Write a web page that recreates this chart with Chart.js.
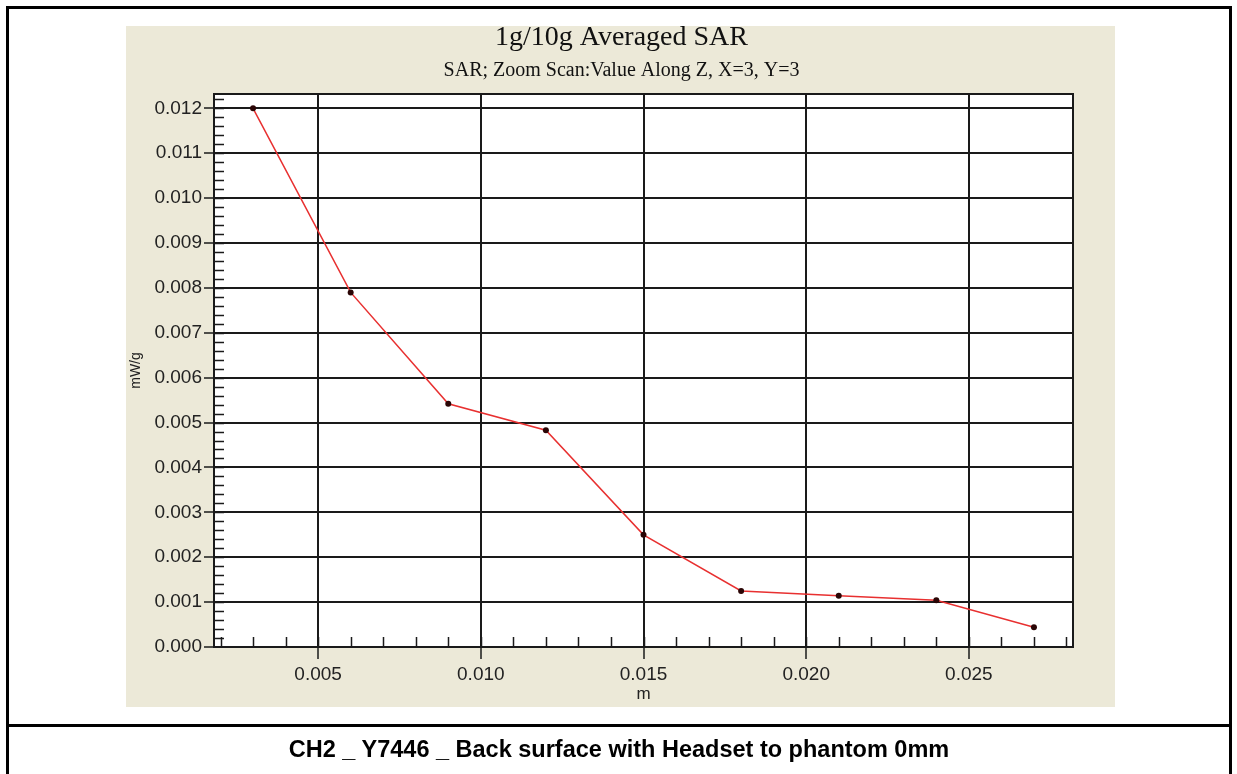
<!DOCTYPE html>
<html>
<head>
<meta charset="utf-8">
<script src="https://cdn.jsdelivr.net/npm/chart.js@4"></script>
<style>
  body { margin: 0; background: #fff; width: 1237px; height: 774px; overflow: hidden; position: relative; }
  #c { position: absolute; left: 0; top: 0; }
  .frame { position: absolute; left: 6px; top: 6px; width: 1226px; height: 820px; box-sizing: border-box; border: 3px solid #000; pointer-events: none; }
  .divider { position: absolute; left: 6px; top: 724px; width: 1226px; height: 3px; background: #000; }
  .caption { position: absolute; left: 6px; top: 737px; width: 1226px; text-align: center;
             font: bold 23.5px "Liberation Sans", Arial, sans-serif; line-height: 24px; color: #000; }
</style>
</head>
<body>
<canvas id="c" width="1237" height="774"></canvas>
<div class="frame"></div>
<div class="divider"></div>
<div class="caption">CH2 _ Y7446 _ Back surface with Headset to phantom 0mm</div>
<script>
// data
var depth = [0.003, 0.006, 0.009, 0.012, 0.015, 0.018, 0.021, 0.024, 0.027];   // m
var sar = [0.01200, 0.00790, 0.00542, 0.00483, 0.00250, 0.00125, 0.00114, 0.00104, 0.00044]; // mW/g

var xTicks = [0.005, 0.010, 0.015, 0.020, 0.025];
var yTicks = [0.000, 0.001, 0.002, 0.003, 0.004, 0.005, 0.006, 0.007, 0.008, 0.009, 0.010, 0.011, 0.012];

var xMinorStep = 0.001;
var yMinorStep = 0.0002;

var ink = '#1a1a1a';
var sans = 'Liberation Sans';
var serif = 'Liberation Serif';

// beige panel, white plot area, frame and small inner ticks
var panelPlugin = {
    id: 'panel',
    beforeDraw: function(chart) {
        var ctx = chart.ctx, a = chart.chartArea;
        ctx.save();
        ctx.fillStyle = '#ECE9D8';
        ctx.fillRect(126, 26, 989, 681);
        ctx.fillStyle = '#ffffff';
        ctx.fillRect(a.left, a.top, a.right - a.left, a.bottom - a.top);
        ctx.restore();
    },
    beforeDatasetsDraw: function(chart) {
        var ctx = chart.ctx, a = chart.chartArea;
        var xs = chart.scales.x, ys = chart.scales.y;
        ctx.save();
        ctx.strokeStyle = ink;
        ctx.lineWidth = 2;
        ctx.strokeRect(a.left, a.top, a.right - a.left, a.bottom - a.top);

        ctx.lineWidth = 1.5;
        ctx.beginPath();
        for (var i = 2; i <= 28; i++) {
            var px = Math.round(xs.getPixelForValue(i * xMinorStep)) + 0.5;
            ctx.moveTo(px, a.bottom);
            ctx.lineTo(px, a.bottom - 10);
        }
        for (var j = 1; j < 62; j++) {
            var py = Math.round(ys.getPixelForValue(j * yMinorStep)) + 0.5;
            if (py < a.top + 2) break;
            ctx.moveTo(a.left, py);
            ctx.lineTo(a.left + 10, py);
        }
        ctx.stroke();
        ctx.restore();
    }
};

var points = depth.map(function(d, i) { return { x: d, y: sar[i] }; });

var ctx = document.getElementById('c').getContext('2d');
var chart = new Chart(ctx, {
    type: 'line',
    data: {
        datasets: [{
            label: 'SAR',
            data: points,
            borderColor: '#e83030',
            borderWidth: 1.5,
            tension: 0,
            pointRadius: 3,
            pointBackgroundColor: '#2a0505',
            pointBorderWidth: 0
        }]
    },
    options: {
        responsive: false,
        animation: false,
        devicePixelRatio: 1,
        layout: { padding: { top: 23.5, left: 128, right: 122, bottom: 69.4 } },
        plugins: {
            legend: { display: false },
            tooltip: { enabled: false },
            title: {
                display: true,
                text: '1g/10g Averaged SAR',
                color: '#111',
                font: { family: serif, size: 28, weight: 'normal', lineHeight: 1 },
                padding: { top: 0, bottom: 9.4 }
            },
            subtitle: {
                display: true,
                text: 'SAR; Zoom Scan:Value Along Z, X=3, Y=3',
                color: '#111',
                font: { family: serif, size: 20, weight: 'normal', lineHeight: 1 },
                padding: { top: 0, bottom: 13.1 }
            }
        },
        scales: {
            x: {
                type: 'linear',
                min: 0.0018,
                max: 0.0282,
                afterBuildTicks: function(s) { s.ticks = xTicks.map(function(v) { return { value: v }; }); },
                afterFit: function(s) { s.height = 57.6; },
                grid: { color: ink, lineWidth: 2, tickLength: 12, tickColor: ink, tickWidth: 1.5 },
                border: { color: ink, width: 2 },
                ticks: {
                    autoSkip: false, maxRotation: 0, padding: 4, color: '#222',
                    font: { family: sans, size: 19 },
                    callback: function(v) { return Number(v).toFixed(3); }
                },
                title: { display: true, text: 'm', color: '#222', font: { family: sans, size: 17 }, padding: { top: 0, bottom: 0 } }
            },
            y: {
                min: 0,
                max: 0.01232,
                afterBuildTicks: function(s) { s.ticks = yTicks.map(function(v) { return { value: v }; }); },
                afterFit: function(s) { s.width = 86; },
                grid: { color: ink, lineWidth: 2, tickLength: 10, tickColor: ink, tickWidth: 1.5 },
                border: { color: ink, width: 2 },
                ticks: {
                    autoSkip: false, padding: 2, color: '#222',
                    font: { family: sans, size: 19 },
                    callback: function(v) { return Number(v).toFixed(3); }
                },
                title: { display: true, text: 'mW/g', color: '#222', font: { family: sans, size: 14 }, padding: { top: 0, bottom: 0 } }
            },
            y2: {
                position: 'right',
                display: true,
                grid: { display: false },
                border: { display: false },
                ticks: { display: false },
                afterFit: function(s) { s.width = 42; }
            }
        }
    },
    plugins: [panelPlugin]
});
</script>
</body>
</html>
